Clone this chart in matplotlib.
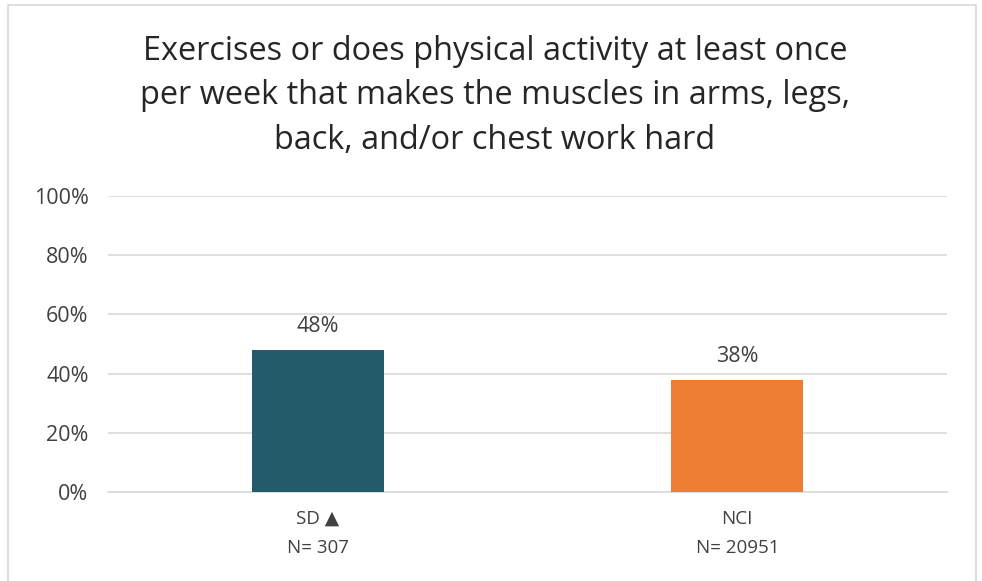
import matplotlib.pyplot as plt
from matplotlib.patches import Rectangle
from matplotlib.ticker import FuncFormatter

categories = ["SD \u25B2\nN= 307", "NCI\nN= 20951"]
values = [48, 38]
bar_labels = ["48%", "38%"]
colors = ["#245B6B", "#ED7D31"]
yticks = [0, 20, 40, 60, 80, 100]
title = ("Exercises or does physical activity at least once\n"
         "per week that makes the muscles in arms, legs,\n"
         "back, and/or chest work hard")

plt.rcParams["font.family"] = ["Open Sans", "DejaVu Sans"]

W, H = 982, 581
fig = plt.figure(figsize=(W / 100, H / 100), dpi=100)
fig.patch.set_facecolor("white")

# outer chart frame
fig.patches.append(Rectangle((8 / W, -0.02), (976 - 8) / W, 1.02 - 5 / H,
                             transform=fig.transFigure, fill=False,
                             edgecolor="#D9D9D9", linewidth=1.2))

ax = fig.add_axes([108 / W, 1 - 492 / H, (947 - 108) / W, (492 - 196) / H])
x = list(range(len(categories)))
bars = ax.bar(x, values, width=0.315, color=colors, zorder=3)
ax.set_xlim(-0.5, len(categories) - 0.5)
ax.set_ylim(0, 100)
ax.set_yticks(yticks)
ax.yaxis.set_major_formatter(FuncFormatter(lambda v, _: f"{v:.0f}%"))
ax.set_xticks(x)
ax.set_xticklabels(categories, fontsize=13.5, color="#404040", linespacing=1.75)
ax.tick_params(axis="y", labelsize=15.5, labelcolor="#404040", length=0, pad=14)
ax.tick_params(axis="x", length=0, pad=13)
ax.grid(axis="y", color="#D9D9D9", linewidth=1.2, zorder=0)
for s in ["top", "right", "left"]:
    ax.spines[s].set_visible(False)
ax.spines["bottom"].set_color("#D9D9D9")
ax.spines["bottom"].set_linewidth(1.2)

for b, lab in zip(bars, bar_labels):
    ax.annotate(lab, (b.get_x() + b.get_width() / 2, b.get_height()),
                xytext=(0, 9), textcoords="offset points", ha="center",
                va="bottom", fontsize=15.5, color="#404040")

fig.text(495 / W, 1 - 96 / H, title, ha="center", va="center",
         fontsize=23.4, color="#262626", linespacing=1.45)

fig.savefig("out.png", dpi=100)
